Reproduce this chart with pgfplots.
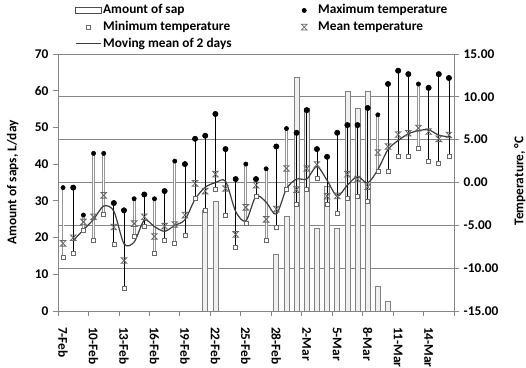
\documentclass[border=0pt]{standalone}
\usepackage{fontspec}
\setmainfont{Carlito}
\usepackage{pgfplots}
\usepackage{pgfplotstable}
\pgfplotsset{compat=1.18}

\definecolor{axgray}{RGB}{134,134,134}
\definecolor{linegray}{RGB}{60,60,60}
\definecolor{markgray}{RGB}{105,105,105}
\definecolor{hlgray}{RGB}{150,150,150}

\pgfplotsset{
  sap legend/.style={legend image code/.code={\path[draw=none,fill=none] (0pt,-3pt) rectangle (19pt,3pt);\draw[##1] (0pt,-2.3pt) rectangle (19pt,2.3pt);}},
  mark legend/.style={legend image code/.code={\path[draw=none,fill=none] (0pt,-3pt) rectangle (19pt,3pt);\draw[##1] plot coordinates {(9.5pt,0pt)};}},
  line legend2/.style={legend image code/.code={\path[draw=none,fill=none] (0pt,-3pt) rectangle (19pt,3pt);\draw[##1] (0pt,0pt) -- (19pt,0pt);}},
  hlout/.style={forget plot, hlgray, line width=2.1pt, mark=none},
  hlin/.style={forget plot, white, line width=0.8pt, mark=none},
}

\pgfdeclareplotmark{hourglass}{%
  \pgfpathmoveto{\pgfqpoint{-\pgfplotmarksize}{\pgfplotmarksize}}%
  \pgfpathlineto{\pgfqpoint{\pgfplotmarksize}{\pgfplotmarksize}}%
  \pgfpathlineto{\pgfqpoint{-\pgfplotmarksize}{-\pgfplotmarksize}}%
  \pgfpathlineto{\pgfqpoint{\pgfplotmarksize}{-\pgfplotmarksize}}%
  \pgfpathclose
  \pgfusepathqstroke}

% day index 0 = 7-Feb ... 38 = 16-Mar
\pgfplotstableread{
d tmax tmean tmin mov
0 -0.6 -7.1 -8.7 nan
1 -0.6 -6.45 -8.3 -6.78
2 -3.8 -4.6 -5.6 -5.53
3 3.4 -4.0 -6.8 -4.3
4 3.4 -1.5 -3.7 -2.75
5 -2.4 -5.2 -7.2 -3.35
6 -3.25 -9.1 -12.3 -7.15
7 -1.9 -4.8 -6.3 -6.95
8 -1.4 -4.0 -5.1 -4.4
9 -1.9 -6.3 -8.3 -5.15
10 -1.0 -5.1 -6.8 -5.7
11 2.5 -4.9 -7.1 -5.0
12 2.15 -3.8 -6.2 -4.35
13 5.1 -0.1 -1.9 -1.95
14 5.46 -1.0 -3.3 -0.55
15 8.0 0.97 -0.8 -0.02
16 3.9 -0.7 -3.8 0.14
17 0.4 -6.06 -7.6 -3.38
18 2.15 -2.9 -4.75 -4.48
19 0.4 -0.3 -1.6 -1.6
20 1.6 -4.3 -6.7 -2.3
21 4.2 -3.1 -5.2 -3.7
22 6.3 1.64 -0.8 -0.73
23 5.8 -0.84 -2.5 0.4
24 8.45 1.64 -0.8 0.4
25 3.9 2.1 0.47 1.87
26 3.0 -1.6 -2.6 0.25
27 5.8 -1.57 -3.6 -1.59
28 6.7 0.97 -1.8 -0.3
29 6.7 0.4 -1.6 0.69
30 8.7 -0.5 -2.2 -0.05
31 7.9 3.5 1.36 1.5
32 11.5 4.2 1.3 3.85
33 13.05 5.6 3.0 4.9
34 12.65 5.75 3.0 5.68
35 11.5 6.35 3.95 6.05
36 11.05 5.95 2.5 6.15
37 12.65 5.1 2.2 5.53
38 12.2 5.55 3.0 5.33
}\tdata

% days whose high-low line looks black
\pgfplotstableread{
d tmax tmin
1 -0.6 -8.3
5 -2.4 -7.2
6 -3.25 -12.3
8 -1.4 -5.1
10 -1.0 -6.8
12 2.15 -6.2
13 5.1 -1.9
14 5.46 -3.3
15 8.0 -0.8
16 3.9 -3.8
17 0.4 -7.6
19 0.4 -1.6
21 4.2 -5.2
23 5.8 -2.5
24 8.45 -0.8
25 3.9 0.47
26 3.0 -2.6
27 5.8 -3.6
28 6.7 -1.8
29 6.7 -1.6
30 8.7 -2.2
32 11.5 1.3
33 13.05 3.0
34 12.65 3.0
36 11.05 2.5
37 12.65 2.2
38 12.2 3.0
}\blackdata

\pgfplotstableread{
d sap
14 27.5
15 30.0
21 15.5
22 25.8
23 63.7
24 55.2
25 22.5
26 34.0
27 22.5
28 59.8
29 55.3
30 59.9
31 6.8
32 2.5
}\sapdata

\begin{document}
\begin{tikzpicture}[font=\bfseries]
\useasboundingbox (0,0) rectangle (394.5pt,276pt);
% ---------------- left axis: sap -----------------
\begin{axis}[
  at={(43.5pt,42.75pt)}, anchor=south west,
  width=297pt, height=192.75pt, scale only axis,
  xmin=-0.5, xmax=38.5, ymin=0, ymax=70,
  axis x line*=bottom, axis y line*=left,
  axis line style={axgray, line width=0.6pt, -},
  tick align=outside, major tick length=3.75pt,
  tick style={axgray, line width=0.6pt},
  xtick={-0.5,2.5,5.5,8.5,11.5,14.5,17.5,20.5,23.5,26.5,29.5,32.5,35.5,38.5},
  xticklabels={},
  extra x ticks={0,3,6,9,12,15,18,21,24,27,30,33,36},
  extra x tick labels={7-Feb,10-Feb,13-Feb,16-Feb,19-Feb,22-Feb,25-Feb,28-Feb,2-Mar,5-Mar,8-Mar,11-Mar,14-Mar},
  extra x tick style={major tick length=0pt},
  xticklabel style={yshift=-8.5pt, rotate=-90, anchor=west, font=\bfseries},
  ytick={0,10,20,30,40,50,60,70},
  yticklabels={0,10,20,30,40,50,60,70},
  yticklabel style={font=\bfseries},
  extra y ticks={11.6667,23.3333,35,46.6667,58.3333,70},
  extra y tick labels={},
  extra y tick style={grid=major, major tick length=0pt},
  major grid style={axgray, line width=0.6pt},
  ylabel={Amount of saps, L/day},
  ylabel style={at={(axis description cs:-0.114,0.5)}, anchor=center, font=\bfseries},
  clip=false,
]
\addplot[ybar, bar width=3.75pt, draw=gray, fill=gray!12, line width=0.5pt]
  table[x=d, y=sap] {\sapdata};
\end{axis}
% ---------------- right axis: temperature -----------------
\begin{axis}[
  at={(43.5pt,42.75pt)}, anchor=south west,
  width=297pt, height=192.75pt, scale only axis,
  xmin=-0.5, xmax=38.5, ymin=-15, ymax=15,
  axis x line=none, axis y line*=right,
  axis line style={axgray, line width=0.6pt, -},
  tick align=outside, major tick length=3.75pt,
  tick style={axgray, line width=0.6pt},
  ytick={-15,-10,-5,0,5,10,15},
  yticklabels={-15.00,-10.00,-5.00,0.00,5.00,10.00,15.00},
  yticklabel style={font=\bfseries},
  ylabel={Temperature, °C},
  ylabel style={at={(axis description cs:1.166,0.315)}, anchor=west, font=\bfseries},
  unbounded coords=jump,
  legend columns=2,
  legend cell align=left,
  legend style={at={(axis description cs:0.043,1.198)}, anchor=north west,
    draw=none, fill=none, inner sep=0pt, font=\bfseries,
    nodes={inner sep=1pt, text height=6.8pt, text depth=1.8pt},
    row sep=1.9pt,
    /tikz/every even column/.append style={column sep=44pt}},
  clip=false,
]
% high-low lines (black)
\addplot[forget plot, only marks, mark=none,
  error bars/.cd, y dir=minus, y explicit, error mark=none,
  error bar style={black, line width=0.6pt}]
  table[x=d, y=tmax, y error minus expr=\thisrow{tmax}-\thisrow{tmin}] {\blackdata};
% high-low lines that look grey and hollow (min to max)
\addplot[hlout] coordinates {(0,-8.7) (0,-0.6)};
\addplot[hlin]  coordinates {(0,-8.7) (0,-0.6)};
\addplot[hlout] coordinates {(2,-5.6) (2,-3.8)};
\addplot[hlin]  coordinates {(2,-5.6) (2,-3.8)};
\addplot[hlout] coordinates {(3,-6.8) (3,3.4)};
\addplot[hlin]  coordinates {(3,-6.8) (3,3.4)};
\addplot[hlout] coordinates {(4,-3.7) (4,3.4)};
\addplot[hlin]  coordinates {(4,-3.7) (4,3.4)};
\addplot[hlout] coordinates {(7,-6.3) (7,-1.9)};
\addplot[hlin]  coordinates {(7,-6.3) (7,-1.9)};
\addplot[hlout] coordinates {(9,-8.3) (9,-1.9)};
\addplot[hlin]  coordinates {(9,-8.3) (9,-1.9)};
\addplot[hlout] coordinates {(11,-7.1) (11,2.5)};
\addplot[hlin]  coordinates {(11,-7.1) (11,2.5)};
\addplot[hlout] coordinates {(18,-4.75) (18,2.15)};
\addplot[hlin]  coordinates {(18,-4.75) (18,2.15)};
\addplot[hlout] coordinates {(20,-6.7) (20,1.6)};
\addplot[hlin]  coordinates {(20,-6.7) (20,1.6)};
\addplot[hlout] coordinates {(22,-0.8) (22,6.3)};
\addplot[hlin]  coordinates {(22,-0.8) (22,6.3)};
\addplot[hlout] coordinates {(31,1.36) (31,7.9)};
\addplot[hlin]  coordinates {(31,1.36) (31,7.9)};
\addplot[hlout] coordinates {(35,3.95) (35,11.5)};
\addplot[hlin]  coordinates {(35,3.95) (35,11.5)};
% moving mean line
\addplot[forget plot, linegray, line width=0.9pt, smooth, tension=0.5, mark=none]
  table[x=d, y=mov] {\tdata};
\addlegendimage{draw=black!70, fill=white, line width=0.6pt, sap legend}
\addlegendentry{Amount of sap}
\addplot[only marks, mark=*, mark size=1.6pt, black, mark legend] table[x=d, y=tmax] {\tdata};
\addlegendentry{Maximum temperature}
\addplot[only marks, mark=square*, mark size=1.5pt, draw=markgray, fill=white, line width=0.5pt, mark legend]
  table[x=d, y=tmin] {\tdata};
\addlegendentry{Minimum temperature}
\addplot[only marks, mark=hourglass, mark size=2.1pt, markgray, line width=0.6pt, mark legend]
  table[x=d, y=tmean] {\tdata};
\addlegendentry{Mean temperature}
\addlegendimage{linegray, line width=0.9pt, line legend2}
\addlegendentry{Moving mean of 2 days}
\end{axis}
\end{tikzpicture}
\end{document}
